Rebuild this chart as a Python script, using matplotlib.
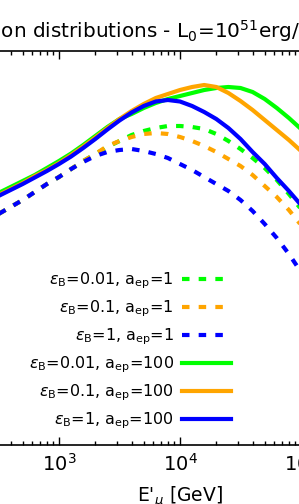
import numpy as np
import matplotlib
matplotlib.use("Agg")
import matplotlib.pyplot as plt

# ---- data ----
# common energy grid, log10(E'/GeV)
logE = [2.3, 2.5, 2.6, 2.7, 2.8, 2.9, 3.0, 3.1, 3.2, 3.3, 3.4, 3.5, 3.6, 3.7, 3.8,
        3.9, 4.0, 4.1, 4.2, 4.3, 4.4, 4.5, 4.6, 4.7, 4.8, 4.9, 5.0, 5.1, 5.2]

# log10 of the distribution (arbitrary units)
g_aep1 = [46.17, 46.31, 46.38, 46.45, 46.53, 46.61, 46.68, 46.76, 46.84, 46.91, 46.98, 47.04, 47.10, 47.14, 47.17,
          47.19, 47.19, 47.18, 47.16, 47.11, 47.04, 46.96, 46.87, 46.77, 46.65, 46.51, 46.36, 46.20, 46.02]
o_aep1 = [46.17, 46.31, 46.38, 46.45, 46.53, 46.61, 46.68, 46.76, 46.84, 46.91, 46.99, 47.04, 47.08, 47.11, 47.12,
          47.11, 47.08, 47.04, 46.99, 46.93, 46.86, 46.79, 46.70, 46.59, 46.48, 46.35, 46.20, 46.04, 45.87]
b_aep1 = [46.17, 46.31, 46.38, 46.45, 46.53, 46.61, 46.68, 46.76, 46.83, 46.89, 46.93, 46.95, 46.96, 46.94, 46.91,
          46.87, 46.81, 46.75, 46.68, 46.61, 46.54, 46.45, 46.34, 46.21, 46.07, 45.91, 45.73, 45.54, 45.34]
g_aep100 = [46.39, 46.52, 46.58, 46.64, 46.70, 46.77, 46.84, 46.915, 47.00, 47.09, 47.18, 47.26, 47.31, 47.37, 47.42,
            47.46, 47.49, 47.52, 47.55, 47.57, 47.58, 47.57, 47.53, 47.46, 47.37, 47.27, 47.16, 47.04, 46.91]
o_aep100 = [46.37, 46.50, 46.56, 46.62, 46.69, 46.75, 46.82, 46.90, 46.985, 47.075, 47.17, 47.26, 47.34, 47.41, 47.47,
            47.51, 47.55, 47.58, 47.60, 47.58, 47.52, 47.44, 47.35, 47.25, 47.15, 47.05, 46.94, 46.83, 46.71]
b_aep100 = [46.36, 46.49, 46.55, 46.61, 46.675, 46.74, 46.81, 46.885, 46.97, 47.06, 47.155, 47.245, 47.325, 47.39, 47.435,
            47.45, 47.435, 47.39, 47.33, 47.26, 47.17, 47.06, 46.93, 46.81, 46.67, 46.54, 46.40, 46.25, 46.10]

labels = [r"$\epsilon_{\rm B}$=0.01, a$_{\rm ep}$=1",
          r"$\epsilon_{\rm B}$=0.1, a$_{\rm ep}$=1",
          r"$\epsilon_{\rm B}$=1, a$_{\rm ep}$=1",
          r"$\epsilon_{\rm B}$=0.01, a$_{\rm ep}$=100",
          r"$\epsilon_{\rm B}$=0.1, a$_{\rm ep}$=100",
          r"$\epsilon_{\rm B}$=1, a$_{\rm ep}$=100"]
title = r"Muon distributions - L$_0$=10$^{51}$erg/s"
xlabel = r"E$'_\mu$ [GeV]"

# ---- figure ----
W, H = 299, 504
fig = plt.figure(figsize=(W/100, H/100), dpi=100)
left_px, right_px, top_px, bot_px = -62, 422, 51, 445
ax = fig.add_axes([left_px/W, 1-bot_px/H, (right_px-left_px)/W, (bot_px-top_px)/H])
ax.set_xscale("log")
ax.set_yscale("log")
ax.set_xlim(1e2, 1e6)
ax.set_ylim(1e44, 10**47.94)

E = 10.0**np.array(logE)
lw = 3.0
dash = (0, (1.8, 2.2))
green, orange, blue = "#00ff00", "#ffa500", "#0000ff"
series = [(g_aep1, green, dash), (o_aep1, orange, dash), (b_aep1, blue, dash),
          (g_aep100, green, "-"), (o_aep100, orange, "-"), (b_aep100, blue, "-")]
for (Y, c, ls), lab in zip(series, labels):
    ax.plot(E, 10.0**np.array(Y), color=c, ls=ls, lw=lw, label=lab)

for s in ax.spines.values():
    s.set_linewidth(1.2)
ax.tick_params(axis="x", which="both", direction="in", top=True, bottom=True, labelsize=14, pad=6)
ax.tick_params(axis="x", which="major", length=6, width=1)
ax.tick_params(axis="x", which="minor", length=3, width=1)
ax.tick_params(axis="y", which="both", left=False, right=False, labelleft=False)
ax.set_xlabel(xlabel, fontsize=13.5, labelpad=7)

fig.text(-29/W, 1-38/H, title, fontsize=14.4, ha="left", va="baseline")

leg = ax.legend(loc="lower right", bbox_to_anchor=(244/W, 1-444/H), bbox_transform=fig.transFigure,
                frameon=False, fontsize=11.5, markerfirst=False, handlelength=3.1,
                labelspacing=0.46, handletextpad=0.5, borderpad=0.3)

fig.savefig("out.png", dpi=100)
